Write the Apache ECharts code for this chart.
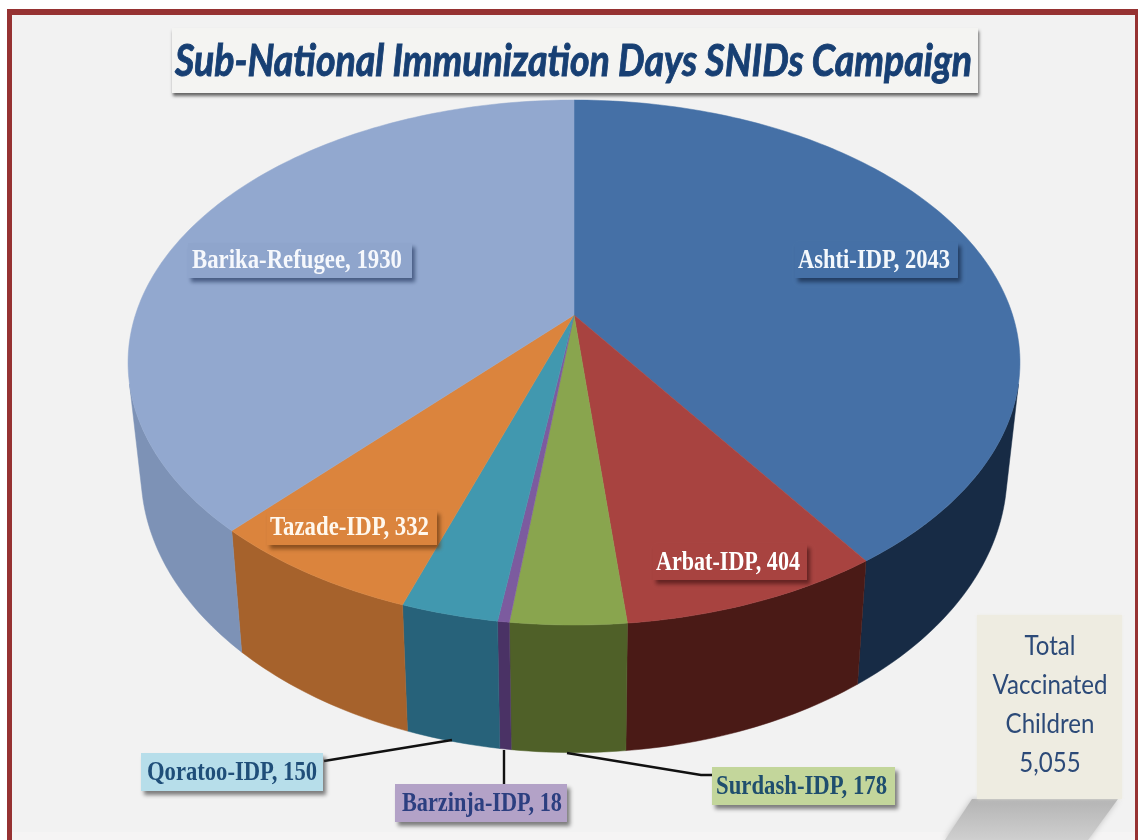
<!DOCTYPE html>
<html><head><meta charset="utf-8">
<style>html,body{margin:0;padding:0;background:#fff}#c{width:1138px;height:840px}</style>
<script src="https://cdn.jsdelivr.net/npm/echarts@6/dist/echarts.min.js"></script>
</head><body><div id="c"></div>
<script>
var categories = ['Ashti-IDP','Arbat-IDP','Surdash-IDP','Barzinja-IDP','Qoratoo-IDP','Tazade-IDP','Barika-Refugee'];
var values = [2043,404,178,18,150,332,1930];
var totalLines = ['Total','Vaccinated','Children','5,055'];
var titleText = 'Sub-National Immunization Days SNIDs Campaign';

var topColors = ['#4570a6','#a84340','#89a54e','#7c5b9f','#4198af','#db843d','#92a8cf'];
var sideColors = ['#172b45','#4a1a16','#4f6028','#4a3265','#27627a','#a6622c','#7d92b6'];
// label box: x,y,w,h, text left, text width, fill, text colour, shadow colour
var labelLayout = [
  {x:795,y:242,w:163,h:36,tx:798,tw:152,fill:'#4570a6',color:'#f4f8fc',sh:'rgba(20,40,70,.7)'},
  {x:653,y:544,w:154,h:36,tx:656,tw:144,fill:'#a84340',color:'#ffffff',sh:'rgba(70,20,20,.7)'},
  {x:712,y:767,w:183,h:38,tx:716,tw:171,fill:'#c3d69b',color:'#1f4e6e',sh:'rgba(60,60,60,.65)'},
  {x:395,y:784,w:172,h:38,tx:402,tw:160,fill:'#b3a2c7',color:'#2c3f80',sh:'rgba(60,60,60,.65)'},
  {x:141,y:753,w:182,h:38,tx:147,tw:170,fill:'#b7deea',color:'#1f4e79',sh:'rgba(60,60,60,.65)'},
  {x:267,y:510,w:170,h:35,tx:270,tw:159,fill:'#db843d',color:'#fff8ee',sh:'rgba(110,60,20,.75)'},
  {x:188,y:243,w:224,h:35,tx:192,tw:210,fill:'#8fa5cc',color:'#f6f8fc',sh:'rgba(40,60,100,.7)'}
];
var leaders = [
  null,null,
  [[567,753],[701,775],[712,775]],
  [[504,750],[504,784]],
  [[324,761],[452,740]],
  null,null
];

// projection of the round pie onto the picture
var CX=574, CY=315, A=438.6, B=253.9, K=0.181;
var EY=362, LOW_EY=472, SX=0.971, SY=1.067;
var SIDE_FROM=105, SIDE_TO=255; // part of the rim that faces the viewer
function proj(deg){
  var t=deg*Math.PI/180, u=Math.sin(t), v=-Math.cos(t), w=1-K*v;
  return [CX+A*u/w, CY+B*v/w];
}
function low(p){ return [CX+(p[0]-CX)*SX, LOW_EY+(p[1]-EY)*SY]; }
var sum = values.reduce(function(a,b){return a+b;},0);
function angles(i){
  var s=0; for(var j=0;j<i;j++) s+=values[j];
  return [s/sum*360,(s+values[i])/sum*360];
}
function arc(a0,a1){
  var n=Math.max(2,Math.ceil(a1-a0)), pts=[];
  for(var i=0;i<=n;i++) pts.push(proj(a0+(a1-a0)*i/n));
  return pts;
}
var mc=document.createElement('canvas').getContext('2d');
function fitScale(txt,font,width){ mc.font=font; return width/mc.measureText(txt).width; }
var LABEL_FONT='bold 27px "Liberation Serif"';
var TOTAL_FONT='27px Lato';
var titleFont='italic bold 43px Lato';
var titleScale=fitScale(titleText,titleFont,797);
var totalScale=fitScale('Vaccinated',TOTAL_FONT,115);

var dataRows = values.map(function(v,i){return {name:categories[i],value:v};});
var chart = echarts.init(document.getElementById('c'),null,{renderer:'canvas'});

chart.setOption({
  animation:false,
  backgroundColor:'#ffffff',
  tooltip:{show:false},
  graphic:{elements:[
    {type:'rect',z:0,shape:{x:7,y:9,width:1131,height:840},style:{fill:'#963232'}},
    {type:'rect',z:0,shape:{x:12,y:15,width:1123,height:830},style:{fill:'#f2f2f2'}},
    {type:'rect',z:0,shape:{x:12,y:832,width:1123,height:8},style:{fill:'#f5f4f4'}},
    {type:'rect',z:1,shape:{x:172,y:28,width:806,height:65},style:{
      fill:'#f4f4f2',shadowColor:'rgba(40,40,40,.7)',shadowBlur:3,shadowOffsetX:1,shadowOffsetY:3}},
    {type:'text',z:2,x:175,y:62,scaleX:titleScale,style:{text:titleText,font:titleFont,fill:'#173f73',stroke:'#173f73',lineWidth:.9,textAlign:'left',textVerticalAlign:'middle'}},
    {type:'polygon',z:1,shape:{points:[[972,799],[1118,799],[1088,840],[945,840]]},style:{
      fill:{type:'linear',x:0,y:0,x2:0,y2:1,colorStops:[{offset:0,color:'#b4b4b4'},{offset:1,color:'#cfcfcf'}]},
      shadowColor:'rgba(170,170,170,.7)',shadowBlur:6}},
    {type:'rect',z:2,shape:{x:977,y:615,width:145,height:184},style:{fill:'#eeece1',shadowColor:'rgba(238,236,225,.8)',shadowBlur:3}}
  ].concat(totalLines.map(function(t,i){
    return {type:'text',z:3,x:1050,y:646+i*39,scaleX:totalScale,style:{text:t,font:TOTAL_FONT,fill:'#2c4a78',textAlign:'center',textVerticalAlign:'middle'}};
  }))},
  series:[
    {type:'custom',coordinateSystem:'none',z:2,silent:true,data:dataRows,renderItem:function(params,api){
      var i=params.dataIndex, a=angles(i), from=Math.max(a[0],SIDE_FROM), to=Math.min(a[1],SIDE_TO);
      var top=arc(from,to), bot=top.map(low).reverse();
      return {type:'polygon',shape:{points:top.concat(bot)},style:{fill:sideColors[i],stroke:sideColors[i],lineWidth:.5}};
    }},
    {type:'custom',coordinateSystem:'none',z:3,silent:true,data:dataRows,renderItem:function(params,api){
      var i=params.dataIndex, a=angles(i);
      return {type:'polygon',shape:{points:[[CX,CY]].concat(arc(a[0],a[1]))},style:{fill:topColors[i],stroke:topColors[i],lineWidth:.5}};
    }},
    {type:'custom',coordinateSystem:'none',z:4,silent:true,data:dataRows,renderItem:function(params,api){
      var i=params.dataIndex, L=labelLayout[i], txt=categories[i]+', '+values[i], kids=[];
      if(leaders[i]) kids.push({type:'polyline',shape:{points:leaders[i]},style:{fill:'none',stroke:'#111',lineWidth:2.4}});
      kids.push({type:'rect',shape:{x:L.x,y:L.y,width:L.w,height:L.h},style:{fill:L.fill,shadowColor:L.sh,shadowBlur:4,shadowOffsetX:3,shadowOffsetY:4}});
      kids.push({type:'text',x:L.tx,y:L.y+L.h/2+1,scaleX:fitScale(txt,LABEL_FONT,L.tw),style:{text:txt,font:LABEL_FONT,fill:L.color,textAlign:'left',textVerticalAlign:'middle'}});
      return {type:'group',children:kids};
    }}
  ]
});
</script></body></html>
